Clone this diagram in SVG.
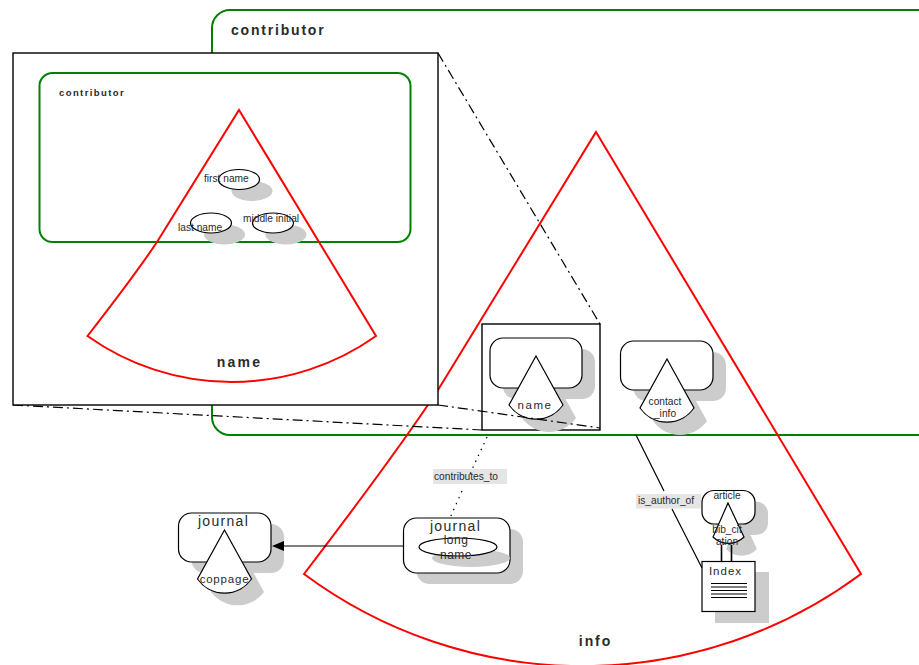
<svg xmlns="http://www.w3.org/2000/svg" width="919" height="665" viewBox="0 0 919 665">
<style>
text{font-family:"Liberation Sans",Arial,sans-serif;fill:#2a2a2a}
.m{text-anchor:middle}
.shadow{fill:#cccccc;stroke:none}
.box{fill:#fff;stroke:#000;stroke-width:1.2}
.green{fill:#fff;stroke:#008000;stroke-width:2}
.red{fill:none;stroke:#ff0000;stroke-width:2}
.dd{fill:none;stroke:#000;stroke-width:1.2;stroke-dasharray:10 4 2 4}
.lbl{fill:#e5e5e5;stroke:none}
.t9{font-size:10.2px}
.t11{font-size:11px;letter-spacing:.5px}
.t13{font-size:14px;letter-spacing:1.3px}
.b{font-weight:bold}
</style>
<defs>
<path id="cone" d="M0,0 L27,49 A33,33 0 0 1 -27,49 Z"/>
</defs>
<g id="contributor-outer"><rect class="green" x="212" y="10" width="730" height="425" rx="18"/>
<text class="b" x="231" y="35" font-size="14" letter-spacing="1.8">contributor</text></g>
<g id="info">
<path class="red" d="M596,132 L861,574 A467,467 0 0 1 304,574 Q395,455 438,390 Z"/>
<text class="b m" x="595.500" y="646" font-size="14" letter-spacing="1.9">info</text></g>
<g id="name-square"><rect x="482" y="324" width="118" height="106" fill="none" stroke="#000" stroke-width="1.4"/></g>
<g id="name-node">
<rect class="shadow" x="503" y="349" width="92" height="50" rx="13"/>
<use href="#cone" x="549" y="369" class="shadow"/>
<rect class="box" x="490" y="338" width="92" height="50" rx="13"/>
<use href="#cone" x="536" y="356" class="box"/>
<text class="m" x="535" y="409" font-size="11.500" letter-spacing="1.6">name</text></g>
<g id="contact-node">
<rect class="shadow" x="633.500" y="352" width="92.500" height="49" rx="13"/>
<use href="#cone" x="680" y="372" class="shadow"/>
<rect class="box" x="620.500" y="341" width="92.500" height="49" rx="13"/>
<use href="#cone" x="667" y="359" class="box"/>
<text class="m t9" x="665" y="405">contact</text>
<text class="m t9" x="665" y="417">_info</text></g>
<g id="label-contributes"><rect class="lbl" x="433" y="469" width="74" height="15"/><text class="t9" x="434" y="480">contributes_to</text></g>
<g id="label-author"><rect class="lbl" x="636" y="494" width="65" height="14.500"/><text class="t9" x="638" y="504">is_author_of</text></g>
<g id="journal-long">
<rect class="shadow" x="416.500" y="529" width="106.500" height="55" rx="13"/>
<rect class="box" x="403.500" y="518" width="106.500" height="55" rx="13"/>
<ellipse class="shadow" cx="471" cy="558" rx="39" ry="9"/>
<ellipse class="box" cx="458" cy="547" rx="39" ry="9"/>
<text class="m t13" x="455.500" y="531">journal</text>
<text class="m t11" x="456" y="544" style="font-size:12px">long</text>
<text class="m t11" x="456" y="559" style="font-size:12px">name</text></g>
<g id="journal">
<rect class="shadow" x="191.500" y="524" width="92.500" height="49" rx="13"/>
<path class="shadow" d="M237,543 L264,592 A33,33 0 0 1 211,592 Z"/>
<rect class="box" x="178.500" y="513" width="92.500" height="49" rx="13"/>
<use href="#cone" x="224.500" y="530" class="box"/>
<text class="m t13" x="223.500" y="526">journal</text>
<text class="m t11" x="224.500" y="583" style="font-size:11.500px;letter-spacing:.8px">coppage</text></g>
<g id="article">
<rect class="shadow" x="715" y="501.500" width="53" height="33.500" rx="12"/>
<path class="shadow" d="M741,515 L757,549 A21,21 0 0 1 726,549 Z"/>
<rect class="box" x="702" y="490.500" width="53" height="33.500" rx="12"/>
<path class="box" d="M728,503 L744,537 A22,22 0 0 1 713,537 Z"/>
<text class="m t9" x="727" y="499">article</text>
<text class="m t9" x="727" y="533">bib_cit</text>
<text class="m t9" x="727" y="545">ation</text></g>
<g id="index">
<rect class="shadow" x="715" y="572" width="54" height="51"/>
<rect class="box" x="702" y="561.500" width="53" height="50"/>
<text class="m" x="725.500" y="575" font-size="11.500" letter-spacing="1">Index</text>
<path d="M711,583.500 H747 M711,587 H747 M711,590.500 H747 M711,594 H747 M711,597.500 H747" fill="none" stroke="#000" stroke-width="1.2"/></g>
<g id="connectors">
<path class="dd" d="M438,53 L600,324"/>
<path class="dd" d="M438,405 L600,428"/>
<path class="dd" d="M13,405 L482,430"/>
<path d="M487,437 L469,476 M462,491 L450,518" fill="none" stroke="#000" stroke-width="1.2" stroke-dasharray="1.5 5"/>
<path d="M636,435 L664,491 M672,509 L702,568" fill="none" stroke="#000" stroke-width="1.2"/>
<path d="M403,546 H282" fill="none" stroke="#000" stroke-width="1.2"/>
<path d="M272,546 L284,541 V551 Z" fill="#000"/>
<path d="M721.500,545 V562 M731.500,545 V562" fill="none" stroke="#000" stroke-width="1.6"/>
</g>
<g id="inset">
<rect x="13" y="53" width="425" height="352" fill="#fff" stroke="#000" stroke-width="1.4"/>
<g id="inset-contributor"><rect class="green" x="39.500" y="73" width="371" height="169" rx="13"/>
<text class="b" x="59" y="96" font-size="9.500" letter-spacing="1.4">contributor</text></g>
<g id="first-name"><ellipse class="shadow" cx="252" cy="191" rx="20.500" ry="10"/><ellipse class="box" cx="239" cy="179.500" rx="20.500" ry="10"/><text class="t9" x="204" y="182">first name</text></g>
<g id="last-name"><ellipse class="shadow" cx="224.500" cy="234.500" rx="20.500" ry="10"/><ellipse class="box" cx="211" cy="223" rx="20.500" ry="10"/><text class="t9" x="178" y="231">last name</text></g>
<g id="middle-initial"><ellipse class="shadow" cx="286" cy="234.500" rx="20.500" ry="10"/><ellipse class="box" cx="273" cy="223" rx="20.500" ry="10"/><text class="t9" x="243" y="222">middle initial</text></g>
<g id="inset-name"><path class="red" d="M239,110 L376,336 A249,249 0 0 1 87.500,336 Q135,275 157,242 Z"/>
<text class="b m" x="239.500" y="367" font-size="14" letter-spacing="2.2">name</text></g>
</g>
</svg>
